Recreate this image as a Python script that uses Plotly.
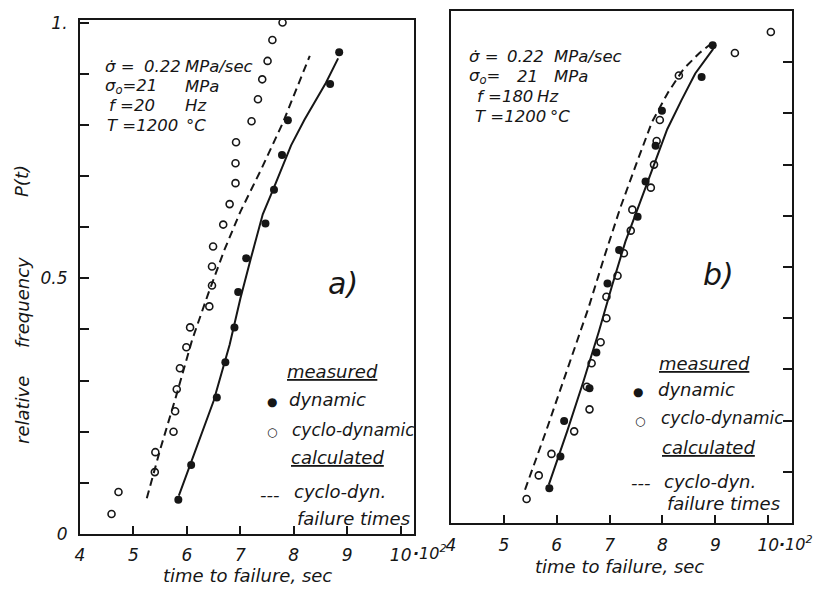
import plotly.graph_objects as go

W, H = 814, 592

# ---------------- data ----------------
# panel a) f = 20 Hz
a_cyclo_t = [7.79, 7.60, 7.51, 7.41, 7.33, 7.21, 6.92, 6.91, 6.91, 6.80, 6.68, 6.49, 6.47,
             6.47, 6.42, 6.06, 5.99, 5.87, 5.81, 5.78, 5.75, 5.41, 5.40, 4.72, 4.59]
a_cyclo_p = [1.00, 0.966, 0.925, 0.889, 0.850, 0.807, 0.766, 0.725, 0.686, 0.645, 0.605, 0.562, 0.523,
             0.486, 0.445, 0.404, 0.365, 0.324, 0.283, 0.240, 0.200, 0.160, 0.121, 0.082, 0.039]
a_dyn_t = [8.85, 8.68, 7.89, 7.78, 7.63, 7.47, 7.11, 6.96, 6.89, 6.72, 6.56, 6.08, 5.84]
a_dyn_p = [0.942, 0.880, 0.809, 0.741, 0.673, 0.607, 0.539, 0.473, 0.404, 0.336, 0.267, 0.135, 0.067]
a_fit_dyn_t = [5.85, 6.1, 6.5, 6.8, 7.0, 7.2, 7.42, 7.6, 7.95, 8.2, 8.6, 8.83]
a_fit_dyn_p = [0.075, 0.145, 0.26, 0.37, 0.46, 0.54, 0.625, 0.67, 0.76, 0.81, 0.882, 0.93]
a_calc_cyclo_t = [5.25, 5.5, 5.8, 6.1, 6.4, 6.7, 7.0, 7.4, 7.8, 8.1, 8.3]
a_calc_cyclo_p = [0.07, 0.165, 0.27, 0.38, 0.47, 0.555, 0.63, 0.715, 0.805, 0.885, 0.935]

# panel b) f = 180 Hz
b_cyclo_t = [10.05, 9.37, 8.31, 7.95, 7.89, 7.84, 7.78, 7.43, 7.40, 7.27, 7.15, 6.94,
             6.94, 6.83, 6.66, 6.57, 6.62, 6.33, 5.90, 5.66, 5.43]
b_cyclo_p = [0.959, 0.918, 0.874, 0.787, 0.746, 0.700, 0.655, 0.612, 0.571, 0.527, 0.483, 0.442,
             0.400, 0.353, 0.312, 0.266, 0.222, 0.179, 0.135, 0.093, 0.047]
b_dyn_t = [8.95, 8.74, 7.99, 7.87, 7.68, 7.53, 7.18, 6.96, 6.75, 6.62, 6.14, 6.07, 5.86]
b_dyn_p = [0.933, 0.871, 0.805, 0.737, 0.667, 0.598, 0.533, 0.468, 0.333, 0.263, 0.199, 0.130, 0.068]
b_fit_dyn_t = [5.85, 6.2, 6.5, 6.8, 7.05, 7.3, 7.56, 7.8, 8.09, 8.36, 8.62, 8.96]
b_fit_dyn_p = [0.075, 0.18, 0.275, 0.375, 0.465, 0.55, 0.622, 0.69, 0.769, 0.826, 0.878, 0.926]
b_calc_cyclo_t = [5.40, 5.8, 6.2, 6.6, 6.9, 7.2, 7.5, 7.8, 8.1, 8.4, 8.7, 8.92]
b_calc_cyclo_p = [0.065, 0.18, 0.30, 0.42, 0.52, 0.615, 0.70, 0.783, 0.84, 0.887, 0.918, 0.936]

x_tickvals = [4, 5, 6, 7, 8, 9, 10]
x_ticktext = ["4", "5", "6", "7", "8", "9", "10"]
y_tickvals = [0, 0.1, 0.2, 0.3, 0.4, 0.5, 0.6, 0.7, 0.8, 0.9, 1.0]
y_ticktext = ["0", " ", " ", " ", " ", "0.5", " ", " ", " ", " ", "1."]

FONT = "DejaVu Sans"
INK = "#161616"


def fx(p):
    return p / W


def fy(p):
    return 1 - p / H


fig = go.Figure()


def add_panel(xa, ya, ct, cp, dt, dp, ft, fp, kt, kp):
    fig.add_trace(go.Scatter(x=kt, y=kp, mode="lines", xaxis=xa, yaxis=ya,
                             line=dict(color=INK, width=2, dash="8px,5px"),
                             name="calculated cyclo-dyn. failure times", showlegend=False))
    fig.add_trace(go.Scatter(x=ft, y=fp, mode="lines", xaxis=xa, yaxis=ya,
                             line=dict(color=INK, width=2),
                             name="calculated dynamic", showlegend=False))
    fig.add_trace(go.Scatter(x=ct, y=cp, mode="markers", xaxis=xa, yaxis=ya,
                             marker=dict(symbol="circle-open", size=7, color=INK,
                                         line=dict(width=1.6, color=INK)),
                             name="cyclo-dynamic", showlegend=False, cliponaxis=False))
    fig.add_trace(go.Scatter(x=dt, y=dp, mode="markers", xaxis=xa, yaxis=ya,
                             marker=dict(symbol="circle", size=8, color=INK),
                             name="dynamic", showlegend=False, cliponaxis=False))


add_panel("x", "y", a_cyclo_t, a_cyclo_p, a_dyn_t, a_dyn_p,
          a_fit_dyn_t, a_fit_dyn_p, a_calc_cyclo_t, a_calc_cyclo_p)
add_panel("x2", "y2", b_cyclo_t, b_cyclo_p, b_dyn_t, b_dyn_p,
          b_fit_dyn_t, b_fit_dyn_p, b_calc_cyclo_t, b_calc_cyclo_p)

tickfont = dict(family=FONT, size=17, color=INK, style="italic")
axis_common = dict(showline=True, linewidth=2, linecolor=INK, mirror=True,
                   showgrid=False, zeroline=False, ticks="inside", tickwidth=2,
                   tickcolor=INK, tickfont=tickfont, automargin=False)

fig.update_layout(
    template="none",
    width=W, height=H, margin=dict(l=0, r=0, t=0, b=0, autoexpand=False),
    paper_bgcolor="white", plot_bgcolor="white",
    font=dict(family=FONT, color=INK, style="italic"),
    xaxis=dict(domain=[fx(80), fx(414)], range=[4, 10.25], anchor="y",
               tickvals=x_tickvals, ticktext=x_ticktext, ticklen=8,
               ticklabelstandoff=5, **axis_common),
    yaxis=dict(domain=[fy(534), fy(20)], range=[0, 1.005], anchor="x",
               tickvals=y_tickvals, ticktext=y_ticktext, ticklen=9,
               ticklabelstandoff=7, **axis_common),
    xaxis2=dict(domain=[fx(451), fx(792)], range=[4, 10.45], anchor="y2",
                tickvals=x_tickvals, ticktext=x_ticktext, ticklen=8,
                ticklabelstandoff=6, **axis_common),
    yaxis2=dict(domain=[fy(523), fy(11)], range=[0, 1.0], anchor="x2", side="right",
                tickvals=y_tickvals, showticklabels=False, ticklen=9, **axis_common),
)

anns = []


def txt(x, y, s, size=18, xanchor="left", angle=0):
    anns.append(dict(x=fx(x), y=fy(y), xref="paper", yref="paper", text=s,
                     showarrow=False, xanchor=xanchor, yanchor="middle",
                     textangle=angle,
                     font=dict(family=FONT, size=size, color=INK, style="italic")))


PS = 16.5  # parameter block font size

# ---- panel a texts ----
txt(103, 67, "σ̇ =", PS)
txt(142, 67, "0.22", PS)
txt(183, 67, "MPa/sec", PS)
txt(103, 87, "σ<sub>o</sub>=21", PS)
txt(183, 87, "MPa", PS)
txt(107, 105, "f =20", PS)
txt(183, 105, "Hz", PS)
txt(105, 125, "T =1200", PS)
txt(184, 125, "°C", PS)
txt(343, 283, "a)", size=30, xanchor="center")
txt(285, 371, "<u>measured</u>")
txt(272, 402, "●", size=12, xanchor="center")
txt(287, 399, "dynamic")
txt(272, 432, "○", size=12, xanchor="center")
txt(290, 430, "cyclo-dynamic", 17)
txt(289, 457, "<u>calculated</u>")
txt(270, 494, "---", size=18, xanchor="center")
txt(292, 492, "cyclo-dyn.")
txt(295, 518, "failure times")
txt(247, 575, "time to failure, sec", xanchor="center")
txt(411, 552, "<b>·</b>10<sup>2</sup>", 16)
txt(22, 181, "P(t)", angle=-90, xanchor="center")
txt(22, 303, "frequency", angle=-90, xanchor="center")
txt(22, 410, "relative", angle=-90, xanchor="center")

# ---- panel b texts ----
txt(467, 57, "σ̇ =", PS)
txt(505, 57, "0.22", PS)
txt(552, 57, "MPa/sec", PS)
txt(467, 77, "σ<sub>o</sub>=", PS)
txt(515, 77, "21", PS)
txt(552, 77, "MPa", PS)
txt(475, 97, "f =180", PS)
txt(535, 97, "Hz", PS)
txt(473, 117, "T =1200", PS)
txt(548, 117, "°C", PS)
txt(718, 275, "b)", size=30, xanchor="center")
txt(657, 363, "<u>measured</u>")
txt(638, 392, "●", size=12, xanchor="center")
txt(656, 389, "dynamic")
txt(640, 421, "○", size=12, xanchor="center")
txt(659, 418, "cyclo-dynamic", 17)
txt(660, 447, "<u>calculated</u>")
txt(641, 482, "---", size=18, xanchor="center")
txt(662, 481, "cyclo-dyn.")
txt(665, 503, "failure times")
txt(619, 566, "time to failure, sec", xanchor="center")
txt(777, 543, "<b>·</b>10<sup>2</sup>", 16)

fig.update_layout(annotations=anns)

fig.write_html("out.html")
